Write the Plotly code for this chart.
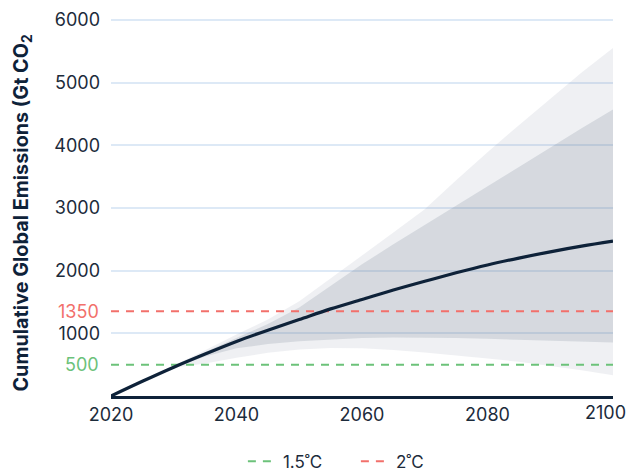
import plotly.graph_objects as go

years = [2020, 2025, 2030, 2035, 2040, 2045, 2050, 2055, 2060, 2065, 2070, 2075, 2080, 2085, 2090, 2095, 2100]
median = [0, 235, 460, 670, 870, 1050, 1220, 1390, 1540, 1690, 1830, 1965, 2090, 2200, 2300, 2390, 2470]
outer_upper = [0, 240, 480, 730, 980, 1220, 1510, 1870, 2240, 2610, 2980, 3440, 3890, 4320, 4740, 5160, 5550]
outer_lower = [0, 235, 450, 520, 610, 690, 740, 765, 760, 735, 695, 650, 600, 545, 480, 410, 330]
inner_upper = [0, 240, 470, 700, 930, 1150, 1410, 1760, 2100, 2420, 2730, 3040, 3350, 3660, 3970, 4270, 4570]
inner_lower = [0, 235, 455, 630, 760, 830, 875, 905, 925, 935, 935, 925, 912, 898, 884, 870, 855]

threshold_names = ["1.5˚C", "2˚C"]
threshold_values = [500, 1350]
threshold_colors = ["#6cc27a", "#f2706b"]

y_ticks = [1000, 2000, 3000, 4000, 5000, 6000]
x_ticks = [2020, 2040, 2060, 2080, 2100]

NAVY = "#0e2239"
TEXT = "#1c2b3b"
FONT = "Inter"
FS = 18

fig = go.Figure()

fig.add_trace(go.Scatter(x=years, y=outer_lower, mode="lines", line=dict(width=0),
                         showlegend=False, hoverinfo="skip"))
fig.add_trace(go.Scatter(x=years, y=outer_upper, mode="lines", line=dict(width=0),
                         fill="tonexty", fillcolor="rgba(120,135,155,0.12)",
                         showlegend=False, hoverinfo="skip"))
fig.add_trace(go.Scatter(x=years, y=inner_lower, mode="lines", line=dict(width=0),
                         showlegend=False, hoverinfo="skip"))
fig.add_trace(go.Scatter(x=years, y=inner_upper, mode="lines", line=dict(width=0),
                         fill="tonexty", fillcolor="rgba(100,115,135,0.18)",
                         showlegend=False, hoverinfo="skip"))

for name, val, col in zip(threshold_names, threshold_values, threshold_colors):
    fig.add_trace(go.Scatter(x=[years[0], years[-1]], y=[val, val], mode="lines",
                             name=name, line=dict(color=col, width=2, dash="8px,7px")))

fig.add_trace(go.Scatter(x=years, y=median, mode="lines", line=dict(color=NAVY, width=3.2, shape="spline"),
                         showlegend=False))

for val, col in zip(threshold_values, threshold_colors):
    fig.add_annotation(xref="paper", yref="y", x=0, y=val, text=str(val), showarrow=False,
                       xanchor="right", yanchor="middle", xshift=-10,
                       font=dict(family=FONT, size=FS, color=col))

# last x tick label, nudged left so it stays inside the canvas
fig.add_annotation(xref="x", yref="paper", x=x_ticks[-1], y=0, text=str(x_ticks[-1]), showarrow=False,
                   xanchor="center", yanchor="middle", xshift=-8, yshift=-16,
                   font=dict(family=FONT, size=FS, color=TEXT))

fig.add_annotation(xref="paper", yref="paper", x=-0.177, y=0.483, textangle=-90,
                   text="<b>Cumulative Global Emissions (Gt CO<sub>2</sub></b>", showarrow=False,
                   xanchor="center", yanchor="middle",
                   font=dict(family=FONT, size=19.8, color=NAVY))

fig.update_layout(
    width=626, height=474,
    margin=dict(l=111, r=13, t=18, b=78),
    paper_bgcolor="white", plot_bgcolor="white",
    font=dict(family=FONT, size=FS, color=TEXT),
    legend=dict(orientation="h", xref="container", yref="container",
                x=0.388, xanchor="left", y=0.026, yanchor="middle",
                traceorder="normal", entrywidth=68, entrywidthmode="pixels",
                font=dict(family=FONT, size=17, color=TEXT), itemwidth=30),
    xaxis=dict(range=[2020, 2100], tickvals=x_ticks[:-1], showgrid=False,
               zeroline=False, showline=True, linecolor=NAVY, linewidth=3,
               ticks="", ticklabelstandoff=0,
               tickfont=dict(family=FONT, size=FS, color=TEXT), automargin=False),
    yaxis=dict(range=[0, 6030], tickvals=y_ticks, showgrid=True, gridcolor="#dde9f6", gridwidth=2,
               zeroline=False, showline=False, ticks="", ticklabelstandoff=10,
               tickfont=dict(family=FONT, size=FS, color=TEXT), automargin=False),
)

fig.write_html("out.html", config={"displayModeBar": False},
               post_script="document.body.style.margin='0px';")
